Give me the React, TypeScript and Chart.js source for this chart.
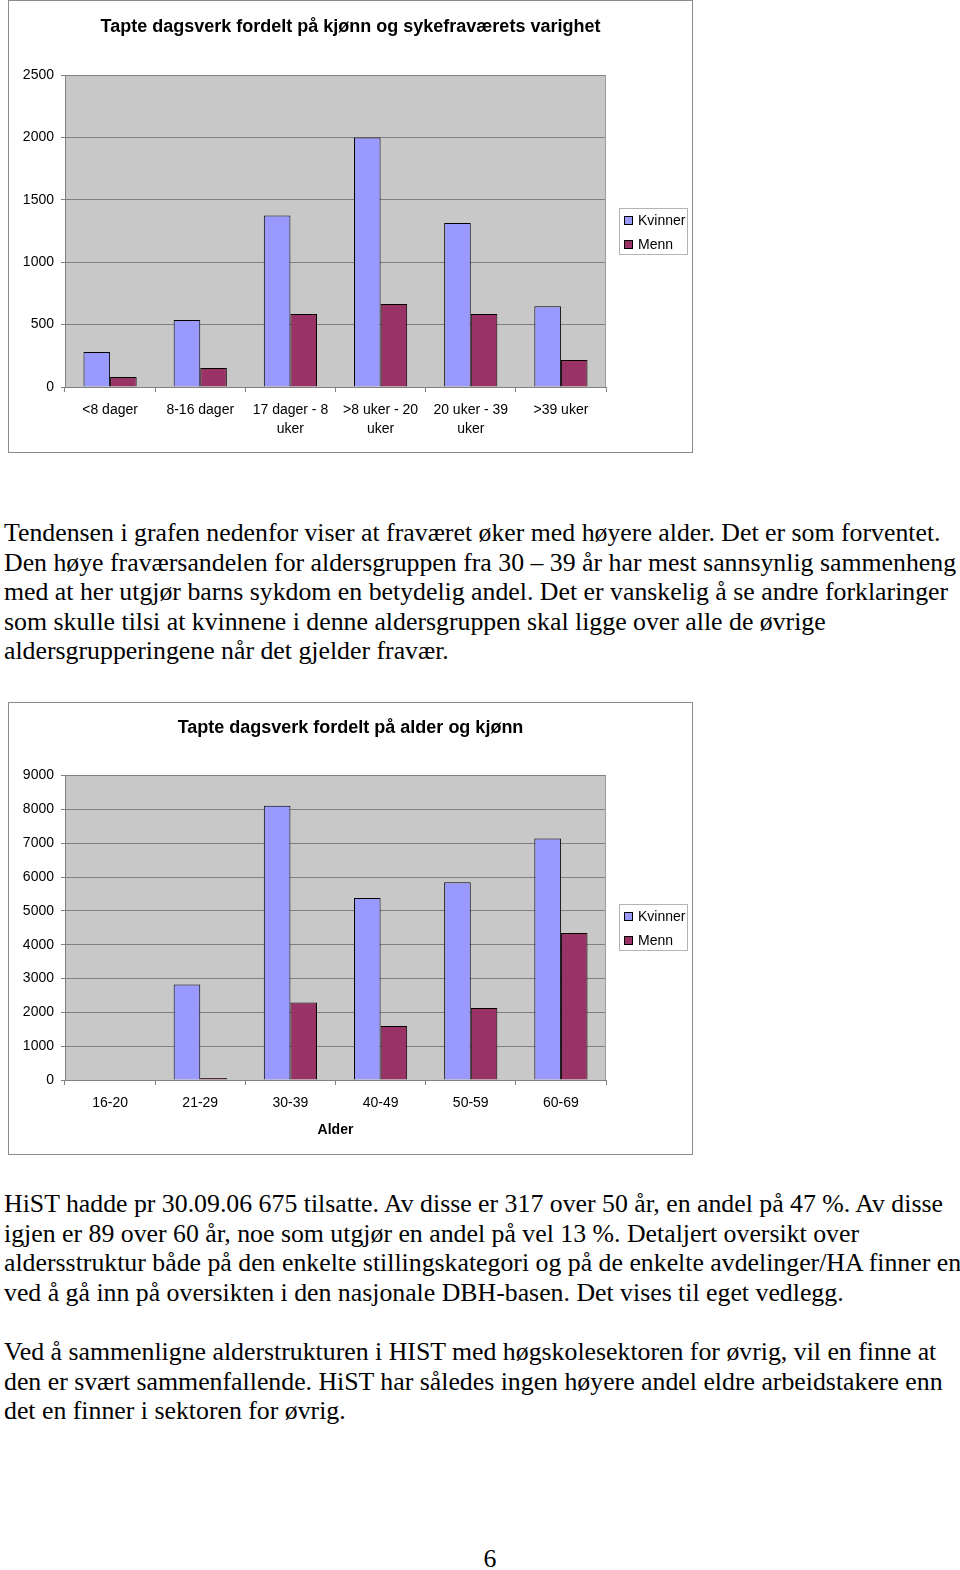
import React, { useEffect, useRef } from "react";
import { Chart, registerables } from "chart.js";

Chart.register(...registerables);

// ---------- Data: chart 1 ----------
const durationTitle = "Tapte dagsverk fordelt på kjønn og sykefraværets varighet";
const durationCategories: string[][] = [
  ["<8 dager"],
  ["8-16 dager"],
  ["17 dager - 8", "uker"],
  [">8 uker - 20", "uker"],
  ["20 uker - 39", "uker"],
  [">39 uker"],
];
const durationKvinner = [280, 536, 1375, 2000, 1314, 648];
const durationMenn = [80, 152, 584, 666, 584, 216];
const durationMax = 2500;
const durationStep = 500;

// ---------- Data: chart 2 ----------
const ageTitle = "Tapte dagsverk fordelt på alder og kjønn";
const ageCategories = ["16-20", "21-29", "30-39", "40-49", "50-59", "60-69"];
const ageKvinner = [0, 2823, 8105, 5380, 5843, 7141];
const ageMenn = [0, 60, 2292, 1593, 2125, 4348];
const ageMax = 9000;
const ageStep = 1000;
const ageAxisTitle = "Alder";

const seriesNames = ["Kvinner", "Menn"];
const seriesColors = ["#9999FF", "#993366"];

// ---------- Text ----------
const paragraph1 = [
  "Tendensen i grafen nedenfor viser at fraværet øker med høyere alder. Det er som forventet.",
  "Den høye fraværsandelen for aldersgruppen fra 30 – 39 år har mest sannsynlig sammenheng",
  "med at her utgjør barns sykdom en betydelig andel. Det er vanskelig å se andre forklaringer",
  "som skulle tilsi at kvinnene i denne aldersgruppen skal ligge over alle de øvrige",
  "aldersgrupperingene når det gjelder fravær.",
];
const paragraph2 = [
  "HiST hadde pr 30.09.06 675 tilsatte. Av disse er 317 over 50 år, en andel på 47 %. Av disse",
  "igjen er 89 over 60 år, noe som utgjør en andel på vel 13 %. Detaljert oversikt over",
  "aldersstruktur både på den enkelte stillingskategori og på de enkelte avdelinger/HA finner en",
  "ved å gå inn på oversikten i den nasjonale DBH-basen. Det vises til eget vedlegg.",
];
const paragraph3 = [
  "Ved å sammenligne alderstrukturen i HIST med høgskolesektoren for øvrig, vil en finne at",
  "den er svært sammenfallende. HiST har således ingen høyere andel eldre arbeidstakere enn",
  "det en finner i sektoren for øvrig.",
];
const pageNumber = "6";

const SANS = '"Liberation Sans", Arial, sans-serif';
const SERIF = '"Liberation Serif", "Times New Roman", serif';

const plotBgPlugin = {
  id: "plotBg",
  beforeDraw(chart: any) {
    const { ctx, chartArea } = chart;
    ctx.save();
    ctx.fillStyle = "#C8C8C8";
    ctx.fillRect(chartArea.left, chartArea.top, chartArea.right - chartArea.left, chartArea.bottom - chartArea.top);
    ctx.restore();
  },
  afterDraw(chart: any) {
    const { ctx, chartArea } = chart;
    ctx.save();
    ctx.strokeStyle = "#9a9a9a";
    ctx.lineWidth = 1;
    ctx.beginPath();
    ctx.moveTo(Math.round(chartArea.right) - 0.5, chartArea.top);
    ctx.lineTo(Math.round(chartArea.right) - 0.5, chartArea.bottom);
    ctx.stroke();
    ctx.restore();
  },
};

const pageTitlePlugin = {
  id: "pageTitle",
  afterDraw(chart: any, _args: any, opts: any) {
    const { ctx } = chart;
    ctx.save();
    ctx.fillStyle = "#000";
    ctx.font = `bold 18px ${SANS}`;
    ctx.textAlign = "center";
    ctx.textBaseline = "middle";
    ctx.fillText(opts.text, chart.width / 2, opts.y);
    ctx.restore();
  },
};

const boxLegendPlugin = {
  id: "boxLegend",
  afterDraw(chart: any) {
    const { ctx, chartArea } = chart;
    const w = 69;
    const h = 47;
    const x = Math.round(chartArea.right + 13);
    const y = Math.round((chartArea.top + chartArea.bottom) / 2 - h / 2);
    ctx.save();
    ctx.fillStyle = "#ffffff";
    ctx.fillRect(x, y, w, h);
    ctx.strokeStyle = "#b4b4b4";
    ctx.lineWidth = 1;
    ctx.strokeRect(x + 0.5, y + 0.5, w - 1, h - 1);
    chart.data.datasets.forEach((ds: any, i: number) => {
      const cy = Math.round(y + h / 2 + (i - 0.5) * 24);
      ctx.fillStyle = ds.backgroundColor;
      ctx.fillRect(x + 5, cy - 4, 9, 9);
      ctx.strokeStyle = "#000";
      ctx.strokeRect(x + 5.5, cy - 3.5, 8, 8);
      ctx.fillStyle = "#000";
      ctx.font = `14px ${SANS}`;
      ctx.textBaseline = "middle";
      ctx.textAlign = "left";
      ctx.fillText(ds.label, x + 19, cy + 1);
    });
    ctx.restore();
  },
};

type BarChartProps = {
  title: string;
  titleY: number;
  labels: any[];
  kvinner: number[];
  menn: number[];
  max: number;
  step: number;
  axisTitle?: string;
  plotTop: number;
  xHeight: number;
};

function BarChart(props: BarChartProps) {
  const ref = useRef<HTMLCanvasElement | null>(null);
  useEffect(() => {
    if (!ref.current) return;
    const chart = new Chart(ref.current, {
      type: "bar",
      data: {
        labels: props.labels,
        datasets: [
          {
            label: seriesNames[0],
            data: props.kvinner,
            backgroundColor: seriesColors[0],
            borderColor: "#000",
            borderWidth: 1,
            categoryPercentage: 0.59,
            barPercentage: 1,
          },
          {
            label: seriesNames[1],
            data: props.menn,
            backgroundColor: seriesColors[1],
            borderColor: "#000",
            borderWidth: 1,
            categoryPercentage: 0.59,
            barPercentage: 1,
          },
        ],
      },
      options: {
        responsive: false,
        animation: false,
        devicePixelRatio: 1,
        layout: { padding: { left: 0, right: 86, top: props.plotTop, bottom: 0 } },
        plugins: {
          legend: { display: false },
          tooltip: { enabled: false },
          title: { display: false },
          pageTitle: { text: props.title, y: props.titleY },
        },
        scales: {
          x: {
            offset: true,
            grid: {
              offset: true,
              drawOnChartArea: false,
              drawTicks: true,
              tickLength: 5,
              color: "#808080",
            },
            border: { display: true, color: "#808080", width: 1 },
            ticks: {
              color: "#000",
              font: { family: SANS, size: 14, lineHeight: 1.36 },
              padding: 9,
              maxRotation: 0,
              autoSkip: false,
            },
            title: props.axisTitle
              ? {
                  display: true,
                  text: props.axisTitle,
                  color: "#000",
                  font: { family: SANS, size: 14, weight: "bold" },
                  padding: { top: 0, bottom: 15.6 },
                }
              : { display: false },
            afterFit: (scale: any) => {
              scale.height = props.xHeight;
            },
          },
          y: {
            min: 0,
            max: props.max,
            ticks: {
              stepSize: props.step,
              color: "#000",
              font: { family: SANS, size: 14 },
              padding: 7,
              callback: (v: any) => String(v),
            },
            grid: {
              color: "#808080",
              drawTicks: true,
              tickLength: 4,
            },
            border: { display: true, color: "#808080", width: 1 },
            afterFit: (scale: any) => {
              scale.width = 56;
            },
          },
        },
      },
      plugins: [plotBgPlugin, boxLegendPlugin, pageTitlePlugin],
    } as any);
    return () => chart.destroy();
  }, []);
  return <canvas ref={ref} width={683} height={451} style={{ display: "block", width: 683, height: 451 }} />;
}

function TextLines({ lines, top }: { lines: string[]; top: number }) {
  return (
    <>
      {lines.map((t, i) => (
        <div
          key={i}
          style={{
            position: "absolute",
            left: 4,
            top: top + i * 29.6 - 15,
            height: 30,
            lineHeight: "30px",
            fontFamily: SERIF,
            fontSize: 25.8,
            whiteSpace: "nowrap",
            color: "#000",
          }}
        >
          {t}
        </div>
      ))}
    </>
  );
}

export default function App() {
  const frame: React.CSSProperties = {
    position: "absolute",
    left: 8,
    width: 683,
    height: 451,
    border: "1px solid #8c8c8c",
    background: "#fff",
  };
  return (
    <div style={{ position: "absolute", left: 0, top: 0, width: 960, height: 1570, background: "#fff", overflow: "hidden" }}>
      <div style={{ ...frame, top: 0 }}>
        <BarChart
          title={durationTitle}
          titleY={26.5}
          labels={durationCategories}
          kvinner={durationKvinner}
          menn={durationMenn}
          max={durationMax}
          step={durationStep}
          plotTop={74}
          xHeight={65}
        />
      </div>
      <TextLines lines={paragraph1} top={533} />
      <div style={{ ...frame, top: 702 }}>
        <BarChart
          title={ageTitle}
          titleY={25.5}
          labels={ageCategories}
          kvinner={ageKvinner}
          menn={ageMenn}
          max={ageMax}
          step={ageStep}
          axisTitle={ageAxisTitle}
          plotTop={72.5}
          xHeight={74}
        />
      </div>
      <TextLines lines={paragraph2} top={1204} />
      <TextLines lines={paragraph3} top={1352} />
      <div
        style={{
          position: "absolute",
          left: 0,
          width: 980,
          top: 1544,
          lineHeight: "30px",
          textAlign: "center",
          fontFamily: SERIF,
          fontSize: 25.8,
        }}
      >
        {pageNumber}
      </div>
    </div>
  );
}
